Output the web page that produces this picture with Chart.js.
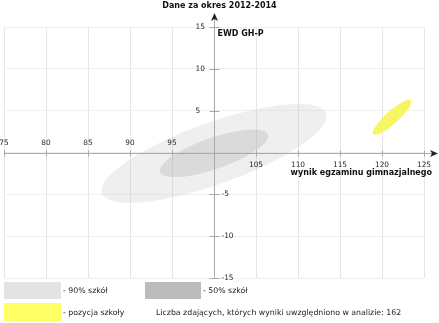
<!DOCTYPE html>
<html>
<head>
<meta charset="utf-8">
<script src="https://cdn.jsdelivr.net/npm/chart.js@4"></script>
<style>
  html, body { margin: 0; padding: 0; background: #fff; }
  canvas { display: block; }
</style>
</head>
<body>
<canvas id="myChart" width="439" height="323"></canvas>
<script>
// axis values
const xTicks = [75, 80, 85, 90, 95, 100, 105, 110, 115, 120, 125]
const yTicks = [-15, -10, -5, 0, 5, 10, 15]
const xCenter = 100
const yCenter = 0

// ellipses: 90% of schools, 50% of schools, school position
const ellipseNames = ['90% szkół', '50% szkół', 'pozycja szkoły']
const centerX = [100, 100, 121.2]
const centerY = [-0.1, -0.1, 4.2]
const reachX = [13.4, 6.45, 2.3]     // horizontal half-extent
const reachY = [4.45, 2.05, 1.85]    // rise at the rightmost point
const halfChord = [3.9, 1.97, 1.0]   // vertical half-chord through the centre

const studentCount = 162

const ellipseColors = ['rgba(190,190,190,0.25)', 'rgba(170,170,170,0.3)', '#f6f662']
const legendColors = ['#e3e3e3', '#bcbcbc', '#ffff66']
const FONT = '"DejaVu Sans", sans-serif'

function drawEllipse(ctx, xs, ys, i) {
    const cx = xs.getPixelForValue(centerX[i])
    const cy = ys.getPixelForValue(centerY[i])
    const ux = xs.getPixelForValue(centerX[i] + reachX[i]) - cx
    const uy = ys.getPixelForValue(centerY[i] + reachY[i]) - cy
    const vy = ys.getPixelForValue(centerY[i] + halfChord[i]) - cy
    ctx.save()
    ctx.transform(ux, uy, 0, vy, cx, cy)
    ctx.beginPath()
    ctx.arc(0, 0, 1, 0, Math.PI * 2)
    ctx.restore()
    ctx.fillStyle = ellipseColors[i]
    ctx.fill()
}

const ewdPlot = {
    id: 'ewdPlot',
    beforeDatasetsDraw(chart) {
        const ctx = chart.ctx
        const xs = chart.scales.x, ys = chart.scales.y
        ctx.save()
        ctx.beginPath()
        ctx.rect(chart.chartArea.left, chart.chartArea.top, chart.chartArea.width, chart.chartArea.height)
        ctx.clip()
        ellipseNames.forEach((n, i) => drawEllipse(ctx, xs, ys, i))
        ctx.restore()
    },
    afterDraw(chart) {
        const ctx = chart.ctx
        const area = chart.chartArea
        const xs = chart.scales.x, ys = chart.scales.y
        const x0 = Math.round(xs.getPixelForValue(xCenter)) + 0.5
        const y0 = Math.round(ys.getPixelForValue(yCenter)) + 0.5
        ctx.save()

        // axes through the centre
        ctx.strokeStyle = '#a9a9a9'
        ctx.lineWidth = 1
        ctx.beginPath()
        ctx.moveTo(area.left, y0)
        ctx.lineTo(433, y0)
        ctx.moveTo(x0, area.bottom)
        ctx.lineTo(x0, 18)
        xTicks.forEach(v => {
            if (v === xCenter) return
            const px = Math.round(xs.getPixelForValue(v)) + 0.5
            ctx.moveTo(px, y0 - 3)
            ctx.lineTo(px, y0 + 3)
        })
        yTicks.forEach(v => {
            if (v === yCenter) return
            const py = Math.round(ys.getPixelForValue(v)) + 0.5
            ctx.moveTo(x0 - 5, py)
            ctx.lineTo(x0 + 5, py)
        })
        ctx.stroke()

        // arrow heads
        ctx.fillStyle = '#222'
        ctx.beginPath()
        ctx.moveTo(438, y0)
        ctx.lineTo(430, y0 - 3.5)
        ctx.lineTo(432, y0)
        ctx.lineTo(430, y0 + 3.5)
        ctx.closePath()
        ctx.moveTo(x0, 13)
        ctx.lineTo(x0 - 3.5, 21)
        ctx.lineTo(x0, 19)
        ctx.lineTo(x0 + 3.5, 21)
        ctx.closePath()
        ctx.fill()

        // tick labels
        ctx.fillStyle = '#2a2a2a'
        ctx.font = '7.4px ' + FONT
        ctx.textBaseline = 'middle'
        ctx.textAlign = 'center'
        xTicks.forEach(v => {
            if (v === xCenter) return
            const px = xs.getPixelForValue(v)
            ctx.fillText(String(v), px, v < xCenter ? y0 - 10 : y0 + 12)
        })
        ctx.textAlign = 'left'
        yTicks.forEach(v => {
            if (v === yCenter) return
            const py = ys.getPixelForValue(v)
            ctx.fillText(String(v), v > yCenter ? x0 - 19 : x0 + 7, py)
        })

        // titles
        ctx.fillStyle = '#111'
        ctx.font = 'bold 8px ' + FONT
        ctx.textAlign = 'center'
        ctx.fillText('Dane za okres 2012-2014', 219.5, 6)
        ctx.textAlign = 'left'
        ctx.fillText('EWD GH-P', x0 + 3, 34)
        ctx.textAlign = 'right'
        ctx.fillText('wynik egzaminu gimnazjalnego', 432, 173)

        // legend
        const boxes = [[4, 282, 57, 17], [145, 282, 56, 17], [4, 303, 57, 18]]
        ctx.font = '7.8px ' + FONT
        ctx.textAlign = 'left'
        boxes.forEach((b, i) => {
            ctx.fillStyle = legendColors[i]
            ctx.fillRect(b[0], b[1], b[2], b[3])
            ctx.fillStyle = '#222'
            ctx.fillText('- ' + ellipseNames[i], b[0] + b[2] + 2, b[1] + b[3] / 2 + 0.5)
        })
        ctx.fillText('Liczba zdających, których wyniki uwzględniono w analizie: ' + studentCount, 156, 312.5)

        ctx.restore()
    }
}

const ctx = document.getElementById('myChart').getContext('2d');

const myChart = new Chart(ctx, {
    type: 'scatter',
    data: {
        datasets: [{
            label: 'EWD',
            data: [],
        }]
    },
    options: {
        responsive: false,
        animation: false,
        layout: {
            padding: { left: 4, right: 15, top: 27, bottom: 45 }
        },
        plugins: {
            legend: { display: false },
            tooltip: { enabled: false }
        },
        scales: {
            x: {
                type: 'linear',
                min: xTicks[0],
                max: xTicks[xTicks.length - 1],
                afterBuildTicks: s => { s.ticks = xTicks.map(v => ({ value: v })) },
                ticks: { display: false },
                grid: { color: '#e6e6e6', drawTicks: false },
                border: { display: false }
            },
            y: {
                type: 'linear',
                min: yTicks[0],
                max: yTicks[yTicks.length - 1],
                afterBuildTicks: s => { s.ticks = yTicks.map(v => ({ value: v })) },
                ticks: { display: false },
                grid: { color: '#f0f0f0', drawTicks: false },
                border: { display: false }
            }
        }
    },
    plugins: [ewdPlot]
});
</script>
</body>
</html>
